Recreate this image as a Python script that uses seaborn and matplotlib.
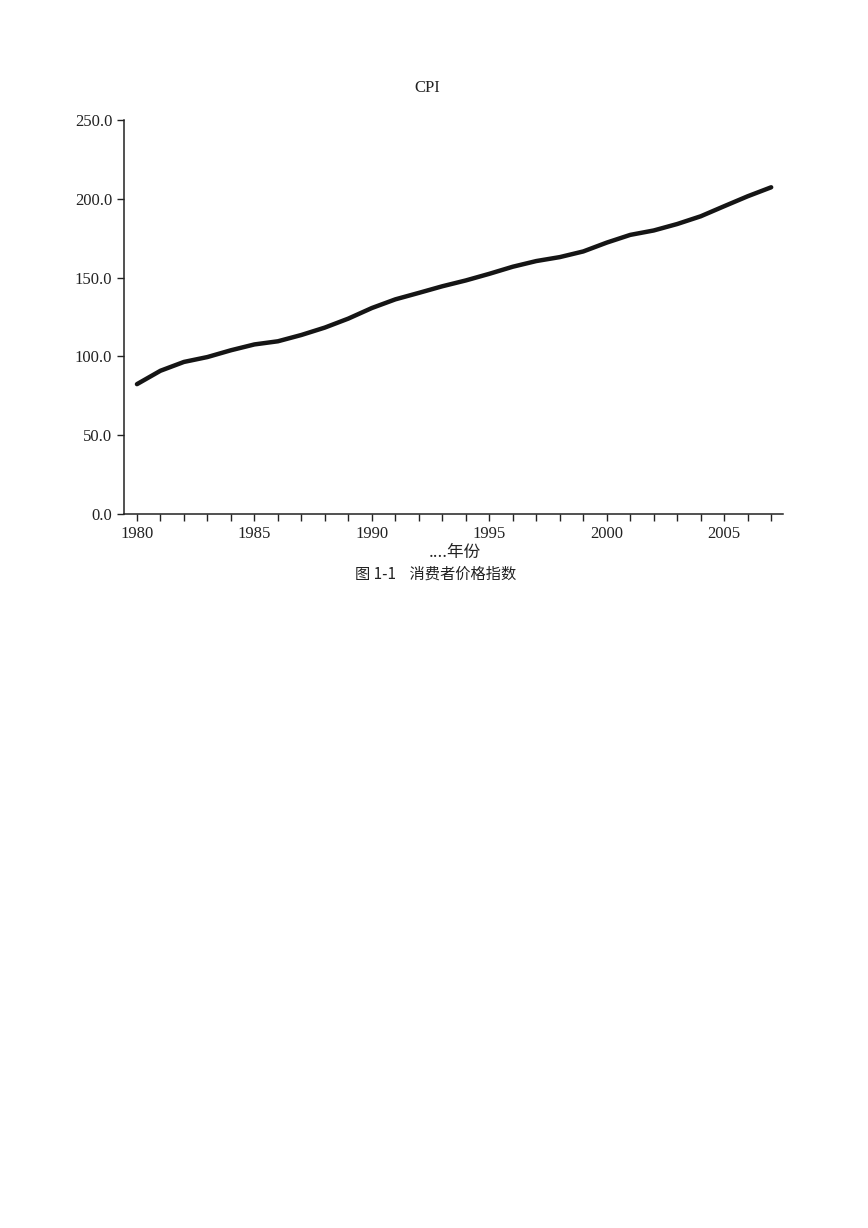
import pandas as pd
import seaborn as sns
import matplotlib.pyplot as plt

years = list(range(1980, 2008))
cpi = [82.4, 90.9, 96.5, 99.6, 103.9, 107.6, 109.6, 113.6, 118.3, 124.0,
       130.7, 136.2, 140.3, 144.5, 148.2, 152.4, 156.9, 160.5, 163.0, 166.6,
       172.2, 177.1, 179.9, 184.0, 188.9, 195.3, 201.6, 207.3]
yticks = [0, 50, 100, 150, 200, 250]
xticks = [1980, 1985, 1990, 1995, 2000, 2005]

df = pd.DataFrame({'year': years, 'cpi': cpi})

sns.set_style("ticks")
plt.rcParams['font.family'] = ['Liberation Serif', 'Noto Sans CJK SC', 'DejaVu Sans']

fig = plt.figure(figsize=(8.68, 12.28), dpi=100)
ax = fig.add_axes([0.1429, 0.5814, 0.7591, 0.3209])
sns.lineplot(x='year', y='cpi', data=df, ax=ax, color='#151515', linewidth=3.2)

ax.set_xlim(1979.45, 2007.5)
ax.set_ylim(0, 250)
ax.set_yticks(yticks)
ax.set_yticklabels(['{:.1f}'.format(v) for v in yticks])
ax.set_xticks(years, minor=True)
ax.set_xticks(xticks)
ax.tick_params(axis='both', labelsize=12, colors='#222222', width=1, length=5)
ax.tick_params(axis='x', which='minor', length=5, width=1, colors='#222222')
ax.tick_params(axis='x', which='major', length=5)
sns.despine(ax=ax)
for s in ['left', 'bottom']:
    ax.spines[s].set_color('#222222')
    ax.spines[s].set_linewidth(1.1)
ax.set_xlabel('')
ax.set_ylabel('')

fig.text(0.492, 1 - 88 / 1228, 'CPI', ha='center', va='center', fontsize=12, color='#222222')
fig.text(0.524, 1 - 552 / 1228, '....年份', ha='center', va='center', fontsize=12,
         color='#222222', family=['Noto Sans CJK SC', 'DejaVu Sans'])
fig.text(0.502, 1 - 574 / 1228, '图 1-1    消费者价格指数', ha='center', va='center',
         fontsize=11, color='#222222', family=['Noto Sans CJK SC', 'DejaVu Sans'])

fig.savefig('out.png', dpi=100, facecolor='white')
